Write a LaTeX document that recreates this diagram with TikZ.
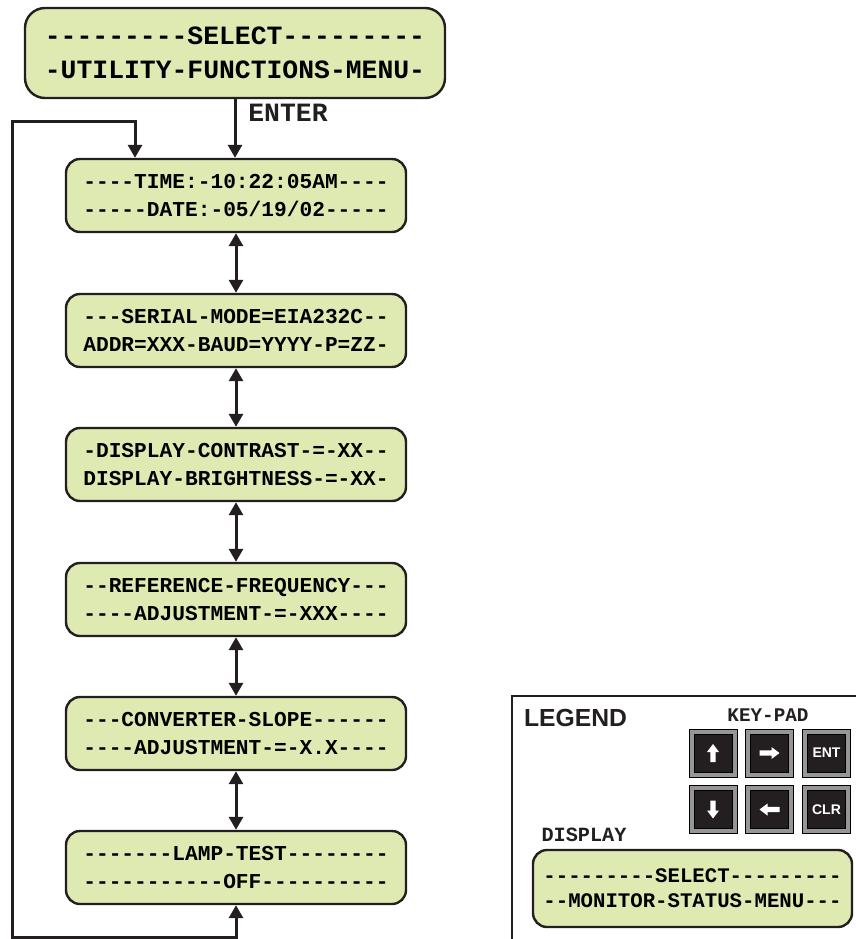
\documentclass[tikz,border=0pt]{standalone}
\usepackage{fontspec}
\setmonofont{Liberation Mono}
\newfontfamily\arialb{Liberation Sans}[BoldFont={Liberation Sans Bold}]
\usetikzlibrary{arrows.meta}
\definecolor{lcd}{RGB}{222,234,178}
\definecolor{linec}{RGB}{35,31,32}
\definecolor{keygrey}{RGB}{150,150,150}
\begin{document}
\begin{tikzpicture}[x=1pt,y=-1pt,
  disp/.style={draw=linec, line width=2.4pt, fill=lcd, rounded corners=14pt,
    minimum width=340pt, minimum height=73pt, align=center, inner sep=0pt,
    font=\ttfamily\bfseries\fontsize{21.2}{28}\selectfont},
  tip/.style={Triangle[length=13pt,width=14pt]},
  conn/.style={line width=3pt, draw=linec, -{Triangle[length=13pt,width=14pt]}},
  dconn/.style={line width=3pt, draw=linec, {Triangle[length=13pt,width=14pt]}-{Triangle[length=13pt,width=14pt]}},
  keyo/.style={draw=black, line width=0.8pt, fill=keygrey, minimum size=48pt, inner sep=0pt},
  keyi/.style={draw=black, line width=0.6pt, fill=linec, minimum size=38pt, inner sep=0pt,
    text=white, font=\arialb\bfseries\fontsize{14}{14}\selectfont},
  lbl/.style={inner sep=0pt, text=linec}
]
\useasboundingbox (0,0) rectangle (856,939);

% top menu box
\node[disp, minimum width=420pt, minimum height=90pt, rounded corners=20pt,
  font=\ttfamily\bfseries\fontsize{26.4}{34}\selectfont] (top) at (235,53)
  {---------SELECT---------\\-UTILITY-FUNCTIONS-MENU-};

% display boxes
\node[disp] (b1) at (236,195.5) {----TIME:-10:22:05AM----\\-----DATE:-05/19/02-----};
\node[disp] (b2) at (236,330.5) {---SERIAL-MODE=EIA232C--\\ADDR=XXX-BAUD=YYYY-P=ZZ-};
\node[disp] (b3) at (236,464.5) {-DISPLAY-CONTRAST-=-XX--\\DISPLAY-BRIGHTNESS-=-XX-};
\node[disp] (b4) at (236,599.5) {--REFERENCE-FREQUENCY---\\----ADJUSTMENT-=-XXX----};
\node[disp] (b5) at (236,733.5) {---CONVERTER-SLOPE------\\----ADJUSTMENT-=-X.X----};
\node[disp] (b6) at (236,867.5) {-------LAMP-TEST--------\\-----------OFF----------};

% ENTER connector
\draw[conn] (top.south) -- (top.south |- b1.north);
\node[lbl, font=\ttfamily\bfseries\fontsize{26.4}{26.4}\selectfont] (enter) at (288,113) {ENTER};

% double arrows
\draw[dconn] (b1.south) -- (b2.north);
\draw[dconn] (b2.south) -- (b3.north);
\draw[dconn] (b3.south) -- (b4.north);
\draw[dconn] (b4.south) -- (b5.north);
\draw[dconn] (b5.south) -- (b6.north);

% loop back
\coordinate (lb) at (12,937);
\coordinate (lt) at (12,122);
\coordinate (rt) at (135,122);
\draw[dconn, line join=miter] (b6.south) -- (b6.south |- lb) -- (lb) -- (lt) -- (rt) -- (rt |- b1.north);

% legend frame
\draw[line width=2pt, draw=linec] (512,939) -- (512,696) -- (856,696);
\node[lbl, font=\arialb\bfseries\fontsize{24.7}{24.7}\selectfont] (legend) at (575.5,718) {LEGEND};
\node[lbl, font=\ttfamily\bfseries\fontsize{19.3}{19.3}\selectfont] (keypad) at (768,715) {KEY-PAD};
\node[lbl, font=\ttfamily\bfseries\fontsize{20.2}{20.2}\selectfont] (display) at (584,835) {DISPLAY};

% keys
\node[keyo] (k1o) at (713,753) {};
\node[keyi] (k1) at (k1o) {};
\node[keyo] (k2o) at (769.5,753) {};
\node[keyi] (k2) at (k2o) {};
\node[keyo] (k3o) at (826.5,753) {};
\node[keyi] (k3) at (k3o) {ENT};
\node[keyo] (k4o) at (713,809.5) {};
\node[keyi] (k4) at (k4o) {};
\node[keyo] (k5o) at (769.5,809.5) {};
\node[keyi] (k5) at (k5o) {};
\node[keyo] (k6o) at (826.5,809.5) {};
\node[keyi] (k6) at (k6o) {CLR};

% key arrows
\fill[white, shift={(k1)}] (0,-9) -- (6,-1) -- (2.6,-1) -- (2.6,9) -- (-2.6,9) -- (-2.6,-1) -- (-6,-1) -- cycle;
\fill[white, shift={(k4)}] (0,9) -- (6,1) -- (2.6,1) -- (2.6,-9) -- (-2.6,-9) -- (-2.6,1) -- (-6,1) -- cycle;
\fill[white, shift={(k2)}] (10,0) -- (2,-6) -- (2,-2.6) -- (-10,-2.6) -- (-10,2.6) -- (2,2.6) -- (2,6) -- cycle;
\fill[white, shift={(k5)}] (-10,0) -- (-2,-6) -- (-2,-2.6) -- (10,-2.6) -- (10,2.6) -- (-2,2.6) -- (-2,6) -- cycle;

% legend display
\node[disp, minimum width=319pt, minimum height=77pt, rounded corners=14pt,
  font=\ttfamily\bfseries\fontsize{20.7}{25}\selectfont] (ldisp) at (692.5,888.5)
  {---------SELECT---------\\--MONITOR-STATUS-MENU---};
\end{tikzpicture}
\end{document}
